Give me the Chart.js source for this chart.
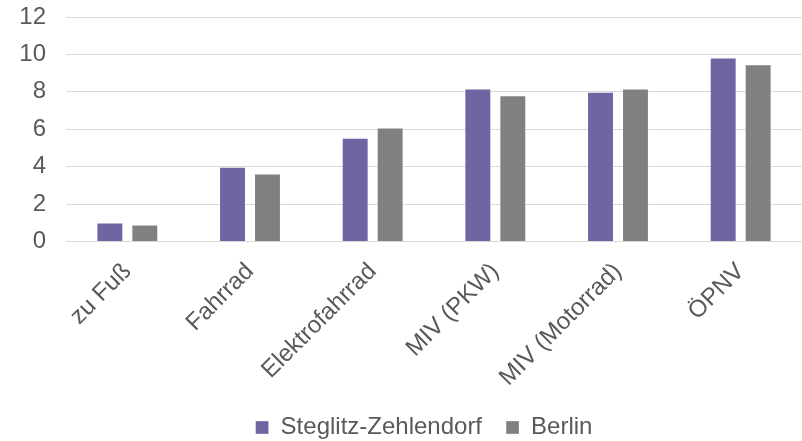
<!DOCTYPE html>
<html lang="de">
<head>
<meta charset="utf-8">
<title>Verkehrsmittel</title>
<script src="https://cdn.jsdelivr.net/npm/chart.js@4/dist/chart.umd.min.js"></script>
<style>
  html, body { margin: 0; padding: 0; background: #fff; }
  #wrap { width: 802px; height: 441px; }
</style>
</head>
<body>
<div id="wrap"><canvas id="chart"></canvas></div>
<script>
// Kategorien und Werte
const kategorien = ['zu Fuß', 'Fahrrad', 'Elektrofahrrad', 'MIV (PKW)', 'MIV (Motorrad)', 'ÖPNV'];
const werteSteglitz = [1.02, 3.99, 5.54, 8.18, 8.0, 9.84];
const werteBerlin = [0.91, 3.64, 6.1, 7.82, 8.18, 9.48];
const yMax = 12;
const yStep = 2;

const textFarbe = '#595959';
const schrift = { family: '"Liberation Sans", Arial, sans-serif', size: 24 };

// Legende etwas nach rechts schieben (wie im Original)
const legendeVerschieben = {
  id: 'legendeVerschieben',
  afterLayout(chart) {
    chart.legend.left += 23;
    chart.legend.right += 23;
  }
};

new Chart(document.getElementById('chart').getContext('2d'), {
  type: 'bar',
  data: {
    labels: kategorien,
    datasets: [
      {
        label: 'Steglitz-Zehlendorf',
        data: werteSteglitz,
        backgroundColor: '#7164a3',
        borderColor: 'rgba(255,255,255,0.35)',
        borderWidth: 1
      },
      {
        label: 'Berlin',
        data: werteBerlin,
        backgroundColor: '#808080',
        borderColor: 'rgba(255,255,255,0.35)',
        borderWidth: 1
      }
    ]
  },
  options: {
    responsive: true,
    maintainAspectRatio: false,
    animation: false,
    datasets: { bar: { categoryPercentage: 0.57, barPercentage: 0.77 } },
    layout: { padding: { top: 17, left: 0, right: 0, bottom: -8.5 } },
    plugins: {
      tooltip: { enabled: false },
      legend: {
        position: 'bottom',
        labels: {
          color: textFarbe,
          font: schrift,
          boxWidth: 13,
          boxHeight: 13,
          padding: 24
        }
      }
    },
    scales: {
      x: {
        grid: { display: false },
        border: { display: false },
        ticks: {
          color: textFarbe,
          font: schrift,
          minRotation: 45,
          maxRotation: 45,
          padding: 8
        },
        afterFit(s) {
          s.height = 150;
          s.paddingLeft = 0;
          s.paddingRight = 0;
        }
      },
      y: {
        min: 0,
        max: yMax,
        grid: { color: '#d9d9d9', lineWidth: 1, drawTicks: false },
        border: { display: false },
        ticks: {
          stepSize: yStep,
          color: textFarbe,
          font: schrift,
          padding: 20
        },
        afterFit(s) {
          s.width = 66;
          s.paddingTop = 0;
          s.paddingBottom = 0;
        }
      }
    }
  },
  plugins: [legendeVerschieben]
});
</script>
</body>
</html>
